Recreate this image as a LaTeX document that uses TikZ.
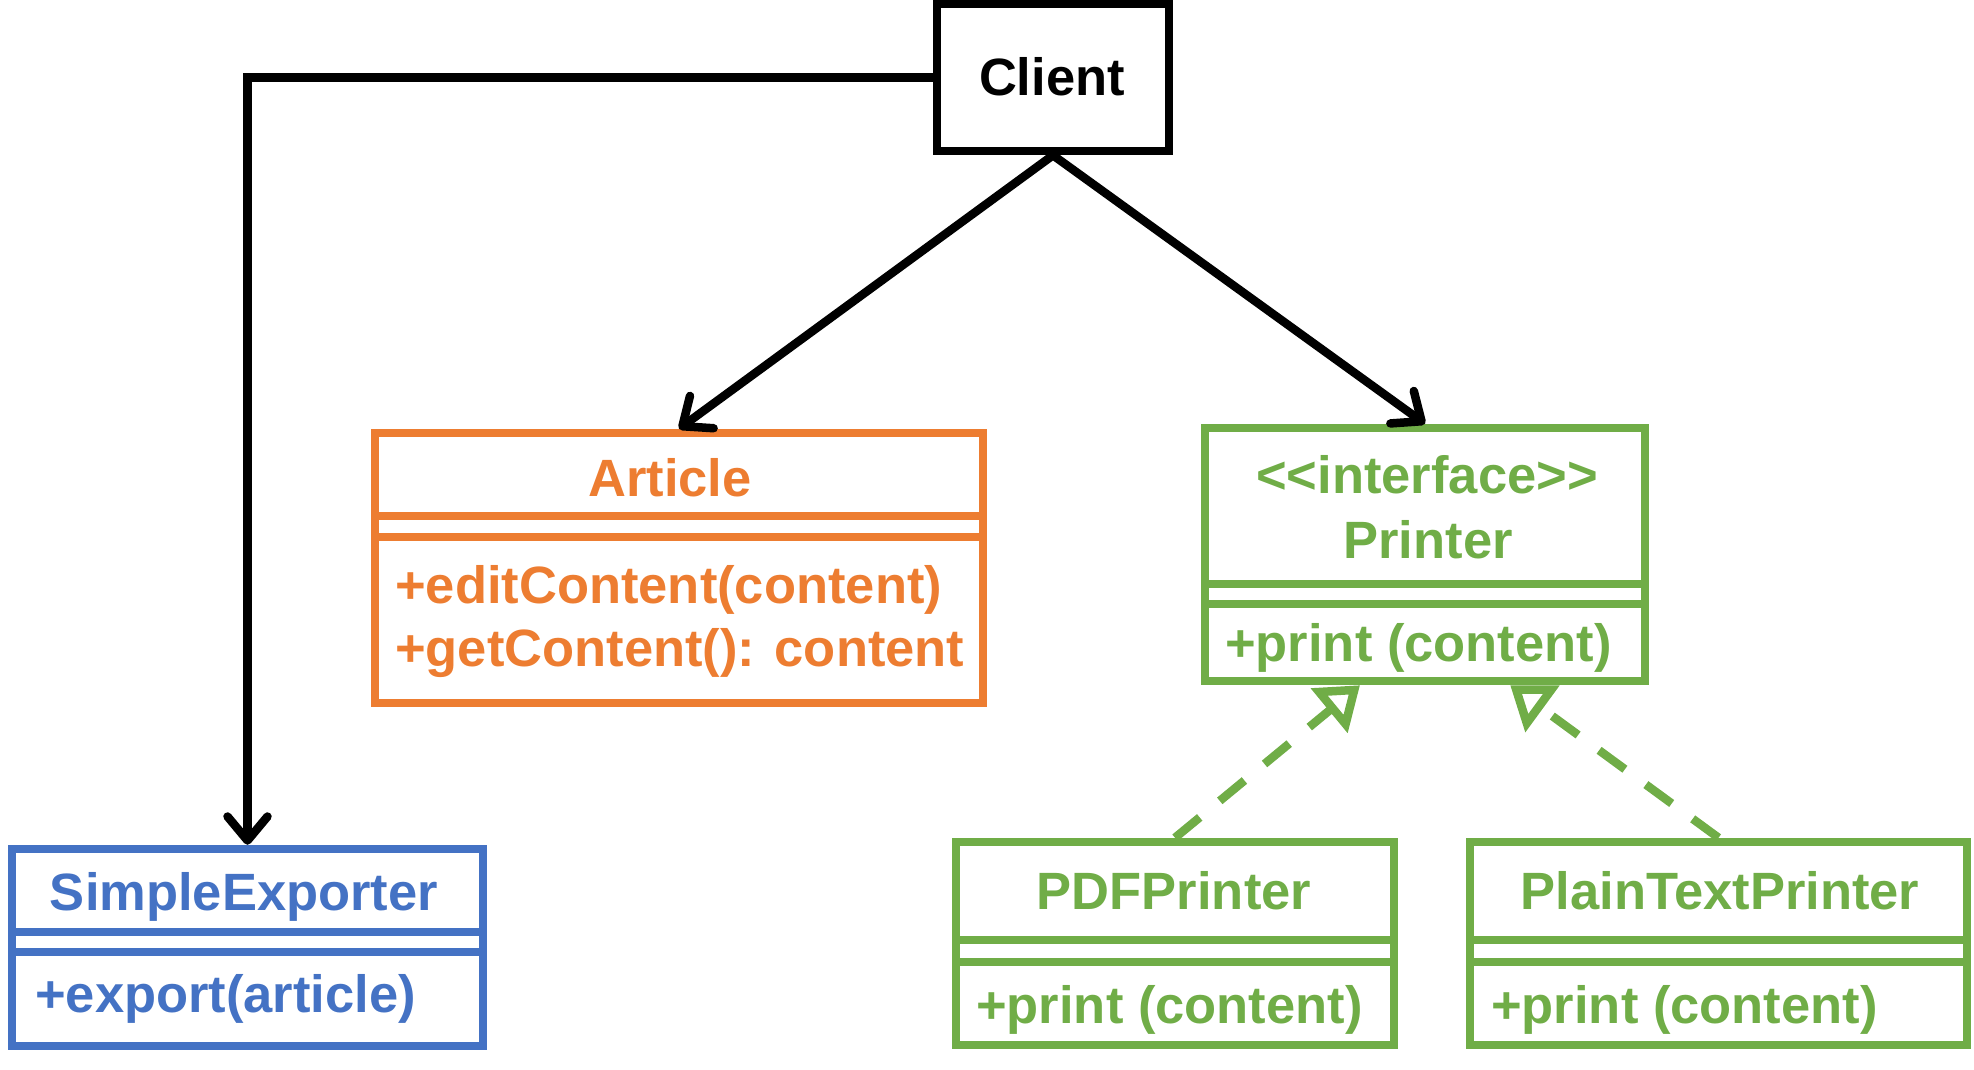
\documentclass[tikz,border=0pt]{standalone}
\usepackage{fontspec}
\setmainfont{Liberation Sans}
\usetikzlibrary{arrows.meta,calc}
\definecolor{corange}{HTML}{ED7D31}
\definecolor{cgreen}{HTML}{70AD47}
\definecolor{cblue}{HTML}{4472C4}
\begin{document}
\begin{tikzpicture}[x=1pt,y=-1pt,
  box/.style={draw, line width=8.5pt, rectangle, inner sep=0pt},
  lbl/.style={inner sep=0pt, font=\fontsize{52.5}{60}\selectfont\bfseries, anchor=base},
  meth/.style={lbl, anchor=base west},
  sepline/.style={line width=8.5pt},
  conn/.style={line width=8.5pt, -{Straight Barb[length=24pt,width=40pt,line cap=round,line join=round]}},
  realiz/.style={draw=cgreen, line width=8.5pt, dash pattern=on 32pt off 26pt, -{Triangle[open,length=40pt,width=56pt]}}
]
\useasboundingbox (0,0) rectangle (1974,1069);

% Client
\node[box, draw=black, minimum width=232pt, minimum height=147pt] (client) at (1053,77.5) {};
\node[lbl] (clientT) at (1052,95) {Client};

% SimpleExporter
\node[box, draw=cblue, minimum width=471pt, minimum height=197pt] (exp) at (247.5,947.5) {};
\draw[sepline, cblue] (12,932) -- (483,932);
\draw[sepline, cblue] (12,952) -- (483,952);
\node[lbl, text=cblue] (expT) at (244,910) {SimpleExporter};
\node[meth, text=cblue] (expM) at (35,1012) {+export(article)};

% Article
\node[box, draw=corange, minimum width=608pt, minimum height=270pt] (art) at (679,568) {};
\draw[sepline, corange] (375,516) -- (983,516);
\draw[sepline, corange] (375,537) -- (983,537);
\node[lbl, text=corange] (artT) at (670,496) {Article};
\node[meth, text=corange] (artM1) at (395,603) {+editContent(content)};
\node[meth, text=corange] (artM2) at (395,666) {+getContent(): content};

% Printer
\node[box, draw=cgreen, minimum width=440pt, minimum height=253pt] (prn) at (1425,554.5) {};
\draw[sepline, cgreen] (1205,584) -- (1645,584);
\draw[sepline, cgreen] (1205,604) -- (1645,604);
\node[lbl, text=cgreen] (prnS) at (1427,493) {<{}<interface>{}>};
\node[lbl, text=cgreen] (prnT) at (1428,558) {Printer};
\node[meth, text=cgreen] (prnM) at (1225,661) {+print (content)};

% PDFPrinter
\node[box, draw=cgreen, minimum width=438pt, minimum height=203pt] (pdf) at (1175,943.5) {};
\draw[sepline, cgreen] (956,940) -- (1394,940);
\draw[sepline, cgreen] (956,962) -- (1394,962);
\node[lbl, text=cgreen] (pdfT) at (1174,909) {PDFPrinter};
\node[meth, text=cgreen] (pdfM) at (976,1023) {+print (content)};

% PlainTextPrinter
\node[box, draw=cgreen, minimum width=497pt, minimum height=203pt] (txt) at (1718.5,943.5) {};
\draw[sepline, cgreen] (1470,940) -- (1967,940);
\draw[sepline, cgreen] (1470,962) -- (1967,962);
\node[lbl, text=cgreen] (txtT) at (1720,909) {PlainTextPrinter};
\node[meth, text=cgreen] (txtM) at (1491,1023) {+print (content)};

% Connectors
\draw[conn] (client.south) -- (art.north);
\draw[conn] (client.south) -- (prn.north);
\draw[conn] (client.west) -| (exp.north);
\draw[realiz] (pdf.north) -- ($(prn.south west)!0.355!(prn.south east)$);
\draw[realiz] (txt.north) -- ($(prn.south west)!0.69!(prn.south east)$);
\end{tikzpicture}
\end{document}
